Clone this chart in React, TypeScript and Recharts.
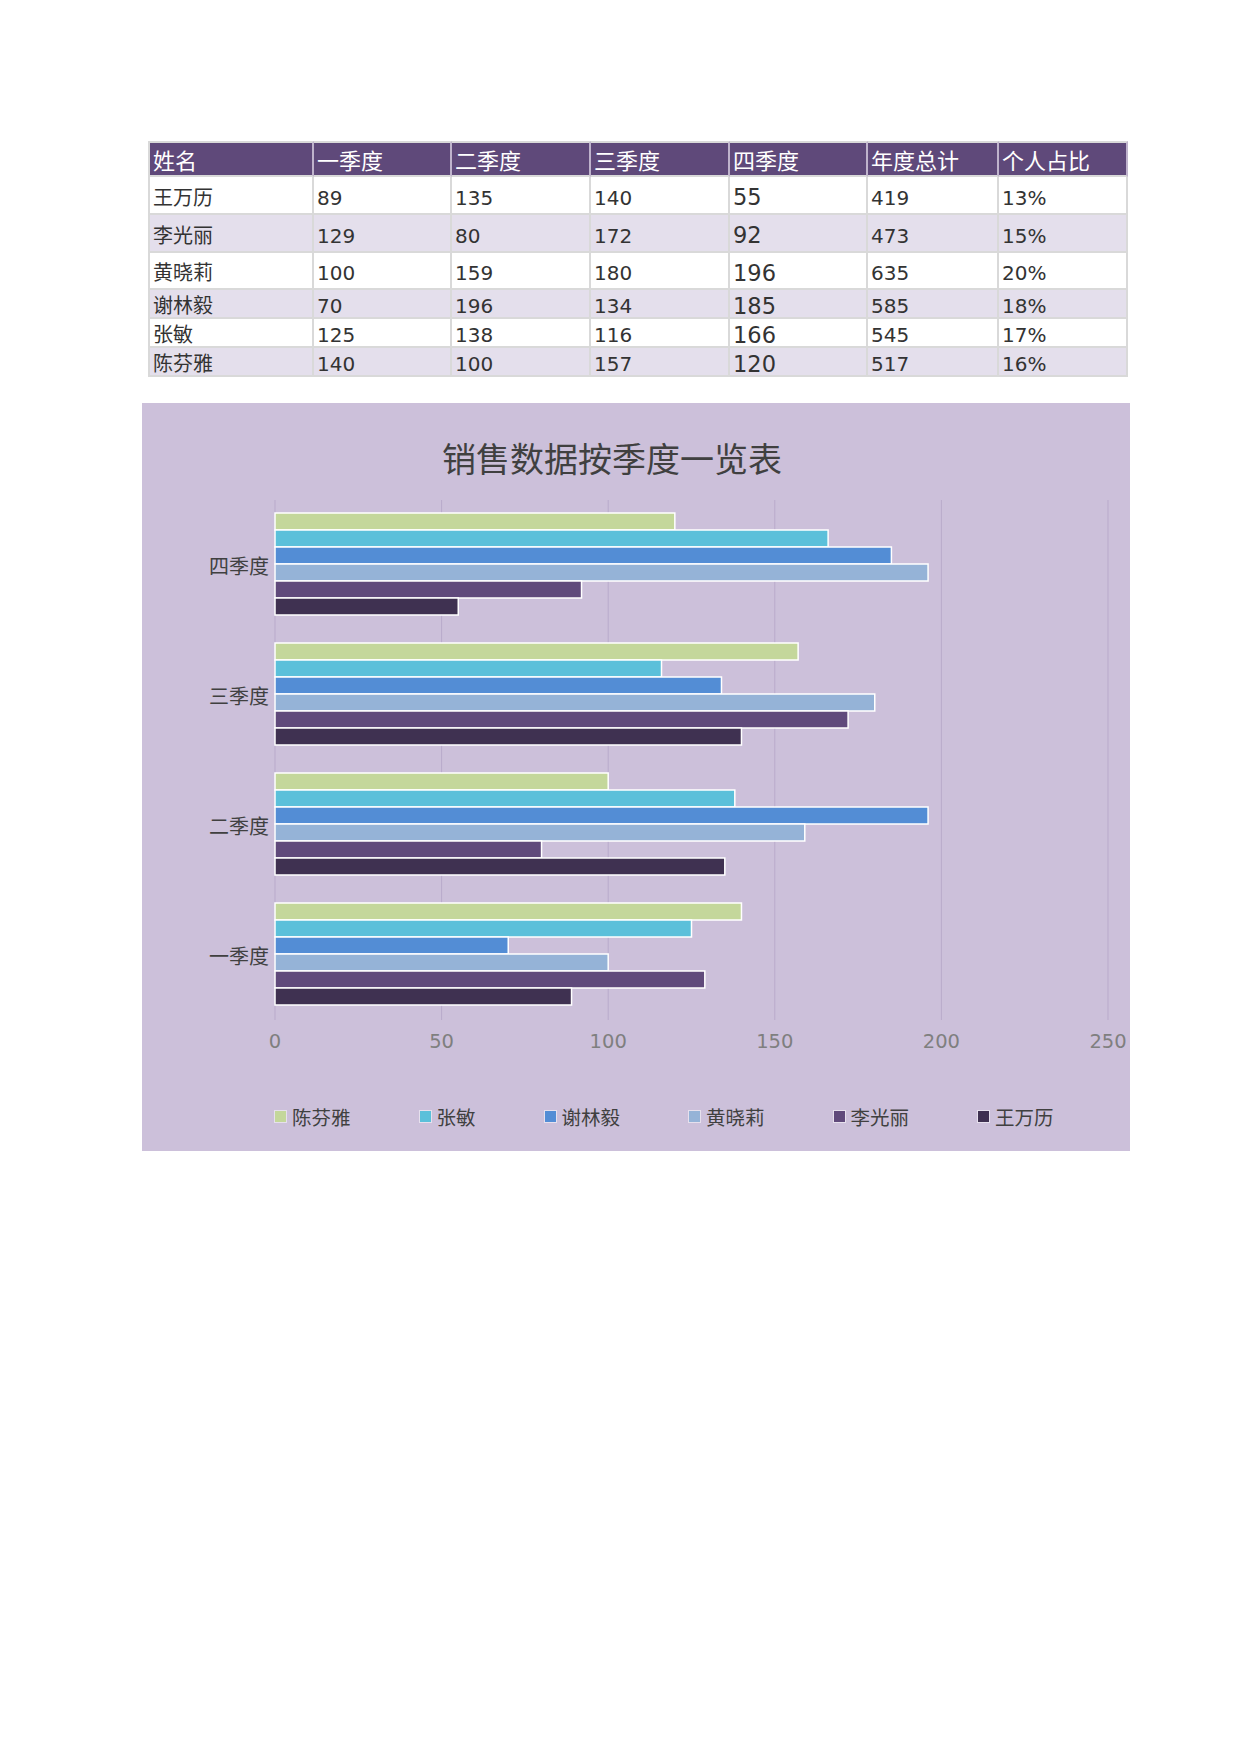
import React from 'react';
import { BarChart, Bar, XAxis, YAxis, CartesianGrid } from 'recharts';

const names = ['王万历', '李光丽', '黄晓莉', '谢林毅', '张敏', '陈芬雅'];
const q1 = [89, 129, 100, 70, 125, 140];
const q2 = [135, 80, 159, 196, 138, 100];
const q3 = [140, 172, 180, 134, 116, 157];
const q4 = [55, 92, 196, 185, 166, 120];
const totals = [419, 473, 635, 585, 545, 517];
const shares = ['13%', '15%', '20%', '18%', '17%', '16%'];
const headers = ['姓名', '一季度', '二季度', '三季度', '四季度', '年度总计', '个人占比'];
const quarterLabels = ['一季度', '二季度', '三季度', '四季度'];
const xTicks = [0, 50, 100, 150, 200, 250];
const colors: Record<string, string> = {
  王万历: '#3f3151',
  李光丽: '#604a7b',
  黄晓莉: '#95b3d7',
  谢林毅: '#538dd5',
  张敏: '#5bc0da',
  陈芬雅: '#c4d79b',
};
const title = '销售数据按季度一览表';

const quarterValues = [q1, q2, q3, q4];
// chart rows: 四季度 at the top
const chartData = [3, 2, 1, 0].map((qi) => {
  const row: Record<string, string | number> = { quarter: quarterLabels[qi] };
  names.forEach((n, i) => {
    row[n] = quarterValues[qi][i];
  });
  return row;
});
const seriesOrder = [...names].reverse();

const FONT = "'DejaVu Sans','Noto Sans CJK SC',sans-serif";

const colLefts = [148, 314, 452, 591, 730, 868, 999, 1128];
const rowTops = [141, 177, 215, 253, 290, 319, 348, 377];

function Table() {
  const cells: React.ReactNode[] = [];
  const rows: (string | number)[][] = [headers];
  names.forEach((n, i) => {
    rows.push([n, q1[i], q2[i], q3[i], q4[i], totals[i], shares[i]]);
  });
  rows.forEach((r, ri) => {
    const isHeader = ri === 0;
    const bg = isHeader ? '#5f497a' : ri % 2 === 0 ? '#e4dfec' : '#ffffff';
    r.forEach((v, ci) => {
      const left = colLefts[ci];
      const w = colLefts[ci + 1] - left;
      const top = rowTops[ri];
      const h = rowTops[ri + 1] - top;
      let fs = isHeader ? 22 : 20;
      if (!isHeader && ci === 4) fs = 22.5;
      cells.push(
        <div
          key={ri + '-' + ci}
          style={{
            position: 'absolute',
            left,
            top,
            width: w,
            height: h,
            boxSizing: 'border-box',
            background: bg,
            borderRight: '2px solid ' + (isHeader ? '#bfb3cc' : '#d9d9d9'),
            borderBottom: '2px solid #d9d9d9',
            borderLeft: ci === 0 ? '2px solid #d9d9d9' : undefined,
            borderTop: ri === 0 ? '2px solid #d9d9d9' : undefined,
            color: isHeader ? '#ffffff' : '#333333',
            fontSize: fs,
            fontFamily: FONT,
            display: 'flex',
            alignItems: 'center',
            paddingLeft: 3,
            paddingTop: 5,
            lineHeight: 1,
            whiteSpace: 'nowrap',
          }}
        >
          {v}
        </div>
      );
    });
  });
  return <>{cells}</>;
}

function Legend() {
  return (
    <div
      style={{
        position: 'absolute',
        left: 275,
        top: 1104,
        height: 24,
        display: 'flex',
        alignItems: 'center',
        fontFamily: FONT,
        fontSize: 19.5,
        color: '#404040',
        whiteSpace: 'nowrap',
      }}
    >
      {seriesOrder.map((n) => (
        <div key={n} style={{ display: 'flex', alignItems: 'center', marginRight: 69 }}>
          <div
            style={{
              width: 11,
              height: 11,
              background: colors[n],
              boxShadow: '0 0 0 1px rgba(255,255,255,0.5)',
              marginRight: 6,
            }}
          />
          <span>{n}</span>
        </div>
      ))}
    </div>
  );
}

export default function App() {
  return (
    <div style={{ position: 'relative', width: 1240, height: 1754, margin: -8, background: '#fff', overflow: 'hidden' }}>
      <Table />
      <div
        style={{
          position: 'absolute',
          left: 142,
          top: 403,
          width: 988,
          height: 748,
          background: '#ccc0da',
        }}
      >
        <div
          style={{
            position: 'absolute',
            left: 0,
            width: 988,
            top: 37,
            textAlign: 'center',
            fontFamily: FONT,
            fontSize: 34,
            color: '#404040',
            lineHeight: '40px',
            paddingRight: 48,
            boxSizing: 'border-box',
          }}
        >
          {title}
        </div>
        <BarChart
          width={988}
          height={748}
          data={chartData}
          layout="vertical"
          margin={{ top: 97, right: 22, bottom: 101, left: 0 }}
          barCategoryGap="10%"
          barGap={0}
        >
          <CartesianGrid horizontal={false} stroke="#b9aacb" strokeWidth={1} />
          <XAxis
            type="number"
            domain={[0, 250]}
            ticks={xTicks}
            axisLine={false}
            tickLine={false}
            height={30}
            tickMargin={8}
            tick={{ fill: '#7f7f7f', fontSize: 19.5, fontFamily: FONT }}
          />
          <YAxis
            type="category"
            dataKey="quarter"
            width={133}
            axisLine={false}
            tickLine={false}
            tickMargin={0}
            tick={{ fill: '#404040', fontSize: 20, fontFamily: FONT, dy: 2 }}
          />
          {seriesOrder.map((n) => (
            <Bar
              key={n}
              dataKey={n}
              fill={colors[n]}
              stroke="#ffffff"
              strokeWidth={1.5}
              isAnimationActive={false}
            />
          ))}
        </BarChart>
      </div>
      <Legend />
    </div>
  );
}
